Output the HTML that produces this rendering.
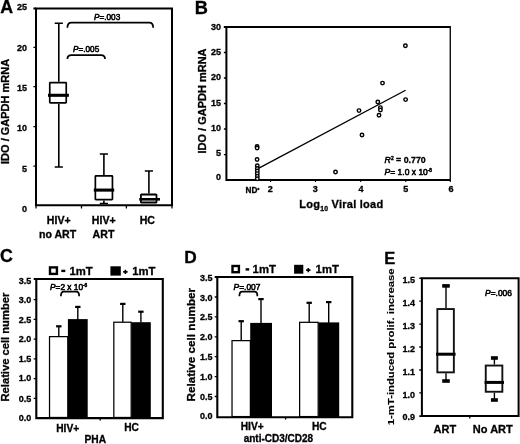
<!DOCTYPE html>
<html><head><meta charset="utf-8"><style>
html,body{margin:0;padding:0;background:#fff;width:520px;height:444px;overflow:hidden}
svg{display:block;filter:grayscale(1) blur(0.35px)}
text{font-family:"Liberation Sans",sans-serif;font-weight:bold;fill:#000;stroke:#000;stroke-width:0.3px}
.n{font-weight:normal;stroke-width:0.55px}
</style></head><body>
<svg width="520" height="444" viewBox="0 0 520 444">
<rect width="520" height="444" fill="#fff"/>
<text x="0.2" y="13.3" font-size="17.8">A</text>
<path d="M36.0 8.5V205.3H172V8.5H36.0Z" stroke="#000" stroke-width="2" fill="none"/>
<path d="M33.4 8.5H36.0" stroke="#000" stroke-width="2" fill="none"/>
<path d="M33.4 47.4H36.0M33.4 86.6H36.0M33.4 126.6H36.0M33.4 166.2H36.0" stroke="#000" stroke-width="1.3" fill="none"/>
<path d="M36.0 205.3V208.5M81.5 205.3V208.5M126.4 205.3V208.5M172 205.3V208.5" stroke="#000" stroke-width="1.3" fill="none"/>
<g font-size="9" text-anchor="end">
<text x="26.9" y="10.42">25</text>
<text x="26.9" y="50.82">20</text>
<text x="26.9" y="91.02">15</text>
<text x="26.9" y="131.22">10</text>
<text x="26.9" y="171.62">5</text>
<text x="26.9" y="211.92">0</text>
</g>
<text transform="translate(9.4,111.4) rotate(-90)" font-size="11" text-anchor="middle">IDO / GAPDH mRNA</text>
<path d="M58.8 23.3V81.8M58.8 103.8V167" stroke="#000" stroke-width="1.6" fill="none"/>
<path d="M54.699999999999996 23.3H62.9M54.699999999999996 167H62.9" stroke="#000" stroke-width="1.5" fill="none"/>
<rect x="49.75" y="82.64999999999999" width="16.499999999999996" height="20.3" rx="0.6" fill="#fff" stroke="#000" stroke-width="1.7"/>
<path d="M48 95.3H68.9" stroke="#000" stroke-width="3.1" fill="none"/>
<path d="M103.9 154.1V175.0M103.9 200.4V203.4" stroke="#000" stroke-width="1.6" fill="none"/>
<path d="M99.80000000000001 154.1H108.0M99.80000000000001 203.4H108.0" stroke="#000" stroke-width="1.5" fill="none"/>
<rect x="95.35" y="175.85" width="17.099999999999998" height="23.700000000000006" rx="0.6" fill="#fff" stroke="#000" stroke-width="1.7"/>
<path d="M93.8 190.1H114.2" stroke="#000" stroke-width="3.1" fill="none"/>
<path d="M148.9 171V193.6" stroke="#000" stroke-width="1.6" fill="none"/>
<path d="M144.8 171H153.0" stroke="#000" stroke-width="1.5" fill="none"/>
<rect x="140.9" y="194.5" width="15.600000000000005" height="8.00000000000001" rx="0.6" fill="#fff" stroke="#000" stroke-width="1.8"/>
<path d="M139.2 199.3H160" stroke="#000" stroke-width="2.6" fill="none"/>
<path d="M67.4 27.8Q67.4 22.7 71.4 22.7H149.2Q153.2 22.7 153.2 27.8" stroke="#000" stroke-width="1.7" fill="none"/>
<path d="M67.4 59.0Q67.4 55.2 71.4 55.2H101.0Q105.0 55.2 105.0 59.0" stroke="#000" stroke-width="1.7" fill="none"/>
<g font-size="8.2">
<text x="94" y="20.3" class="n"><tspan font-style="italic">P</tspan>=.003</text>
<text x="73" y="51.6" class="n"><tspan font-style="italic">P</tspan>=.005</text>
</g>
<g font-size="10.6" text-anchor="middle">
<text x="58.8" y="223.8">HIV+</text><text x="57.6" y="237.6">no ART</text>
<text x="103.8" y="223.8">HIV+</text><text x="103.5" y="237.6">ART</text>
<text x="147.3" y="223.8">HC</text>
</g>
<text x="194.8" y="13.6" font-size="18.2">B</text>
<path d="M451 27H226.4V180.1H451" stroke="#000" stroke-width="2" fill="none"/>
<path d="M450.3 26V180.5" stroke="#111" stroke-width="1.45" fill="none"/>
<path d="M223.9 52.5H226.4M223.9 78H226.4M223.9 103.5H226.4M223.9 129H226.4M223.9 154.6H226.4" stroke="#000" stroke-width="1.3" fill="none"/>
<path d="M223.8 27H226.4" stroke="#000" stroke-width="2"/>
<path d="M270.6 180.1V182.1M315.5 180.1V182.1M360.7 180.1V182.1M405.8 180.1V182.1M450.3 180.1V182.1" stroke="#000" stroke-width="1.1" fill="none"/>
<g font-size="9" text-anchor="end">
<text x="221" y="30.02">30</text>
<text x="221" y="55.02">25</text>
<text x="221" y="80.32">20</text>
<text x="221" y="106.02">15</text>
<text x="221" y="131.22">10</text>
<text x="221" y="156.02">5</text>
<text x="221" y="180.02">0</text>
</g>
<text transform="translate(206.1,101) rotate(-90)" font-size="11" text-anchor="middle">IDO / GAPDH mRNA</text>
<path d="M258.9 168.1L405.6 90.25" stroke="#000" stroke-width="1.35"/>
<g stroke="#000" fill="#fff" stroke-width="1.45">
<circle cx="257.1" cy="146.4" r="1.75"/>
<circle cx="257.1" cy="148.0" r="1.75"/>
<circle cx="257.1" cy="159.4" r="1.75"/>
<circle cx="257.3" cy="165.8" r="1.75"/>
<circle cx="257.3" cy="168.4" r="1.75"/>
<circle cx="257.3" cy="171.0" r="1.75"/>
<circle cx="257.3" cy="173.6" r="1.75"/>
<circle cx="257.3" cy="176.2" r="1.75"/>
<circle cx="257.3" cy="178.8" r="1.75"/>
<circle cx="335.5" cy="172" r="1.75"/>
<circle cx="359" cy="110.6" r="1.75"/>
<circle cx="362" cy="135" r="1.75"/>
<circle cx="377.8" cy="101.9" r="1.75"/>
<circle cx="380.4" cy="107.6" r="1.75"/>
<circle cx="380.4" cy="110" r="1.75"/>
<circle cx="379" cy="115.2" r="1.75"/>
<circle cx="382.5" cy="83.1" r="1.75"/>
<circle cx="405.4" cy="45.8" r="1.75"/>
<circle cx="405.6" cy="99.6" r="1.75"/>
</g>
<g font-size="9" text-anchor="middle">
<text x="270.2" y="191.9">2</text>
<text x="315.3" y="191.9">3</text>
<text x="361" y="191.9">4</text>
<text x="405.8" y="191.9">5</text>
<text x="451" y="191.9">6</text>
</g>
<text x="245.6" y="193" font-size="8.2">ND<tspan font-size="5.5" dx="-0.2" dy="-1.5">*</tspan></text>
<text x="299.3" y="208.4" font-size="11" letter-spacing="0.25">Log<tspan font-size="6.8" dy="2.4">10</tspan><tspan dy="-2.4"> Viral load</tspan></text>
<g font-size="8.8">
<text x="384.6" y="163.3"><tspan font-style="italic" class="n">R</tspan><tspan font-size="4.8" dy="-3.2" class="n">2</tspan><tspan dy="3.2"> = 0.770</tspan></text>
<text x="384.6" y="174.9" class="n" font-size="8.5"><tspan font-style="italic">P</tspan>= 1.0 x 10<tspan font-size="4.6" dy="-3.2">-8</tspan></text>
</g>
<text x="0.1" y="262.4" font-size="17.8">C</text>
<rect x="50.0" y="267.4" width="6.900000000000004" height="6.500000000000034" fill="#fff" stroke="#000" stroke-width="2.4"/>
<path d="M61.3 270.9H65.3" stroke="#000" stroke-width="2.4"/>
<text x="69.4" y="275.1" font-size="11.3">1mT</text>
<rect x="110.4" y="266.3" width="10.399999999999991" height="9.300000000000011" fill="#000"/>
<path d="M123.2 271.9H127.60000000000001M125.4 269.7V274.09999999999997" stroke="#000" stroke-width="1.6"/>
<text x="132.3" y="275.1" font-size="11.3">1mT</text>
<path d="M162.8 279H36.3V418.1H162.8Z" stroke="#000" stroke-width="2.1" fill="none"/>
<path d="M33.699999999999996 299.6H36.3M33.699999999999996 319.4H36.3M33.699999999999996 339.1H36.3M33.699999999999996 358.9H36.3M33.699999999999996 378.6H36.3M33.699999999999996 398.3H36.3" stroke="#000" stroke-width="1.3" fill="none"/>
<path d="M33.7 279H36.3" stroke="#000" stroke-width="2"/>
<path d="M100.2 418.1V420.5" stroke="#000" stroke-width="1.3" fill="none"/>
<g font-size="9" text-anchor="end">
<text x="31.2" y="283.92">3.5</text>
<text x="31.2" y="303.02">3.0</text>
<text x="31.2" y="322.82">2.5</text>
<text x="31.2" y="341.82">2.0</text>
<text x="31.2" y="361.72">1.5</text>
<text x="31.2" y="381.32">1.0</text>
<text x="31.2" y="401.62">0.5</text>
<text x="31.2" y="421.22">0.0</text>
</g>
<text transform="translate(9.4,347.1) rotate(-90)" font-size="11.2" text-anchor="middle">Relative cell number</text>
<rect x="49.525" y="336.625" width="18.250000000000007" height="80.85000000000002" fill="#fff" stroke="#000" stroke-width="1.25"/>
<rect x="67.9" y="319.1" width="19.799999999999997" height="99.0" fill="#000"/>
<rect x="113.825" y="322.225" width="17.35000000000001" height="95.25" fill="#fff" stroke="#000" stroke-width="1.25"/>
<rect x="131.4" y="322.2" width="19.400000000000006" height="95.90000000000003" fill="#000"/>
<path d="M58.8 336.5V326.3" stroke="#000" stroke-width="1.4"/>
<path d="M56.099999999999994 326.3H61.5" stroke="#000" stroke-width="2.2"/>
<path d="M77.8 320V306.9" stroke="#000" stroke-width="1.4"/>
<path d="M75.1 306.9H80.5" stroke="#000" stroke-width="2.2"/>
<path d="M122.8 322V303.9" stroke="#000" stroke-width="1.4"/>
<path d="M120.1 303.9H125.5" stroke="#000" stroke-width="2.2"/>
<path d="M140.9 322.5V311.7" stroke="#000" stroke-width="1.4"/>
<path d="M138.20000000000002 311.7H143.6" stroke="#000" stroke-width="2.2"/>
<path d="M60.9 296.3Q60.9 291.6 63.699999999999996 291.6H76.4Q79.2 291.6 79.2 296.3" stroke="#000" stroke-width="1.7" fill="none"/>
<text x="50" y="289.7" font-size="8.3" class="n"><tspan font-style="italic">P</tspan>=2 x 10<tspan font-size="4.8" dy="-3">-6</tspan></text>
<g font-size="10.2" text-anchor="middle">
<text x="67.7" y="431.7">HIV+</text><text x="131.6" y="431.3">HC</text><text x="95.3" y="442.5">PHA</text>
</g>
<text x="184.2" y="263.2" font-size="17.3">D</text>
<rect x="232.5" y="266.0" width="6.399999999999983" height="6.1999999999999655" fill="#fff" stroke="#000" stroke-width="2.4"/>
<path d="M245.6 269.4H249.2" stroke="#000" stroke-width="2.4"/>
<text x="252.6" y="273.4" font-size="11.3">1mT</text>
<rect x="294.1" y="264.8" width="9.199999999999989" height="8.899999999999977" fill="#000"/>
<path d="M306.1 270.1H310.5M308.3 267.90000000000003V272.3" stroke="#000" stroke-width="1.6"/>
<text x="315.6" y="273.4" font-size="11.3">1mT</text>
<path d="M352.3 277H217.3V417.2H352.3Z" stroke="#000" stroke-width="2.1" fill="none"/>
<path d="M214.70000000000002 297.0H217.3M214.70000000000002 316.9H217.3M214.70000000000002 336.8H217.3M214.70000000000002 356.7H217.3M214.70000000000002 376.6H217.3M214.70000000000002 396.5H217.3" stroke="#000" stroke-width="1.3" fill="none"/>
<path d="M214.7 277H217.3" stroke="#000" stroke-width="2"/>
<path d="M285.6 417.2V419.59999999999997" stroke="#000" stroke-width="1.3" fill="none"/>
<g font-size="9" text-anchor="end">
<text x="212.6" y="281.02">3.5</text>
<text x="212.6" y="300.62">3.0</text>
<text x="212.6" y="320.42">2.5</text>
<text x="212.6" y="340.32">2.0</text>
<text x="212.6" y="359.92">1.5</text>
<text x="212.6" y="380.12">1.0</text>
<text x="212.6" y="399.62">0.5</text>
<text x="212.6" y="419.42">0.0</text>
</g>
<text transform="translate(195,344.7) rotate(-90)" font-size="11.7" text-anchor="middle">Relative cell number</text>
<rect x="232.025" y="340.625" width="18.349999999999994" height="75.94999999999999" fill="#fff" stroke="#000" stroke-width="1.25"/>
<rect x="250.2" y="322.9" width="21.80000000000001" height="94.30000000000001" fill="#000"/>
<rect x="299.625" y="322.325" width="18.55000000000001" height="94.25" fill="#fff" stroke="#000" stroke-width="1.25"/>
<rect x="318.5" y="322.4" width="20.69999999999999" height="94.80000000000001" fill="#000"/>
<path d="M241.2 340.8V321.2" stroke="#000" stroke-width="1.4"/>
<path d="M238.5 321.2H243.89999999999998" stroke="#000" stroke-width="2.2"/>
<path d="M261.0 324V299.1" stroke="#000" stroke-width="1.4"/>
<path d="M258.3 299.1H263.7" stroke="#000" stroke-width="2.2"/>
<path d="M309.2 323V302.8" stroke="#000" stroke-width="1.4"/>
<path d="M306.5 302.8H311.9" stroke="#000" stroke-width="2.2"/>
<path d="M328.7 323V302.1" stroke="#000" stroke-width="1.4"/>
<path d="M326.0 302.1H331.4" stroke="#000" stroke-width="2.2"/>
<path d="M239.4 296.3Q239.4 291.7 242.20000000000002 291.7H254.59999999999997Q257.4 291.7 257.4 296.3" stroke="#000" stroke-width="1.7" fill="none"/>
<text x="233.6" y="289.7" font-size="8.4" class="n"><tspan font-style="italic">P</tspan>=.007</text>
<g font-size="10.2" text-anchor="middle">
<text x="252.2" y="430.4">HIV+</text><text x="319.3" y="430.4">HC</text>
<text x="278.4" y="442.2" font-size="10">anti-CD3/CD28</text>
</g>
<text x="384.2" y="264.2" font-size="16.5">E</text>
<path d="M518.6 278.2H421.9V416.1H518.6Z" stroke="#000" stroke-width="2" fill="none"/>
<path d="M419.29999999999995 301.2H421.9M419.29999999999995 324.1H421.9M419.29999999999995 347.0H421.9M419.29999999999995 370.0H421.9M419.29999999999995 392.9H421.9" stroke="#000" stroke-width="1.3" fill="none"/>
<path d="M419.3 278.2H421.9M419.3 416.1H421.9" stroke="#000" stroke-width="1.6"/>
<path d="M469.8 416.1V418.5" stroke="#000" stroke-width="1.3" fill="none"/>
<g font-size="9" text-anchor="end">
<text x="415" y="283.02">1.5</text>
<text x="415" y="305.62">1.4</text>
<text x="415" y="328.52">1.3</text>
<text x="415" y="351.82">1.2</text>
<text x="415" y="374.62">1.1</text>
<text x="415" y="397.52">1.0</text>
<text x="415" y="420.32">0.9</text>
</g>
<text transform="translate(393.6,346.8) rotate(-90) scale(1,0.84)" font-size="11.3" text-anchor="middle" style="stroke-width:0.15px">1-mT-induced prolif. increase</text>
<path d="M446.0 285.9V308.1M446.0 373.3V381.0" stroke="#000" stroke-width="1.4"/>
<rect x="442.2" y="284.09999999999997" width="7.6" height="3.6" fill="#000"/>
<rect x="442.2" y="379.2" width="7.6" height="3.6" fill="#000"/>
<rect x="437.34999999999997" y="309.05" width="16.500000000000036" height="63.29999999999999" fill="#fff" stroke="#111" stroke-width="1.9"/>
<path d="M436.1 354.2H455.6" stroke="#000" stroke-width="3"/>
<path d="M494.4 358.0V364.6M494.4 392.7V400.0" stroke="#000" stroke-width="1.4"/>
<rect x="490.95" y="356.2" width="6.9" height="3.6" fill="#000"/>
<rect x="490.95" y="398.2" width="6.9" height="3.6" fill="#000"/>
<rect x="485.75" y="365.55" width="16.6" height="26.199999999999967" fill="#fff" stroke="#111" stroke-width="1.9"/>
<path d="M484.6 382.4H504.0" stroke="#000" stroke-width="3"/>
<text x="485" y="296" font-size="8.45" class="n"><tspan font-style="italic">P</tspan>=.006</text>
<g font-size="11" text-anchor="middle">
<text x="444.9" y="433">ART</text><text x="492.8" y="433">No ART</text>
</g>
</svg>
</body></html>
